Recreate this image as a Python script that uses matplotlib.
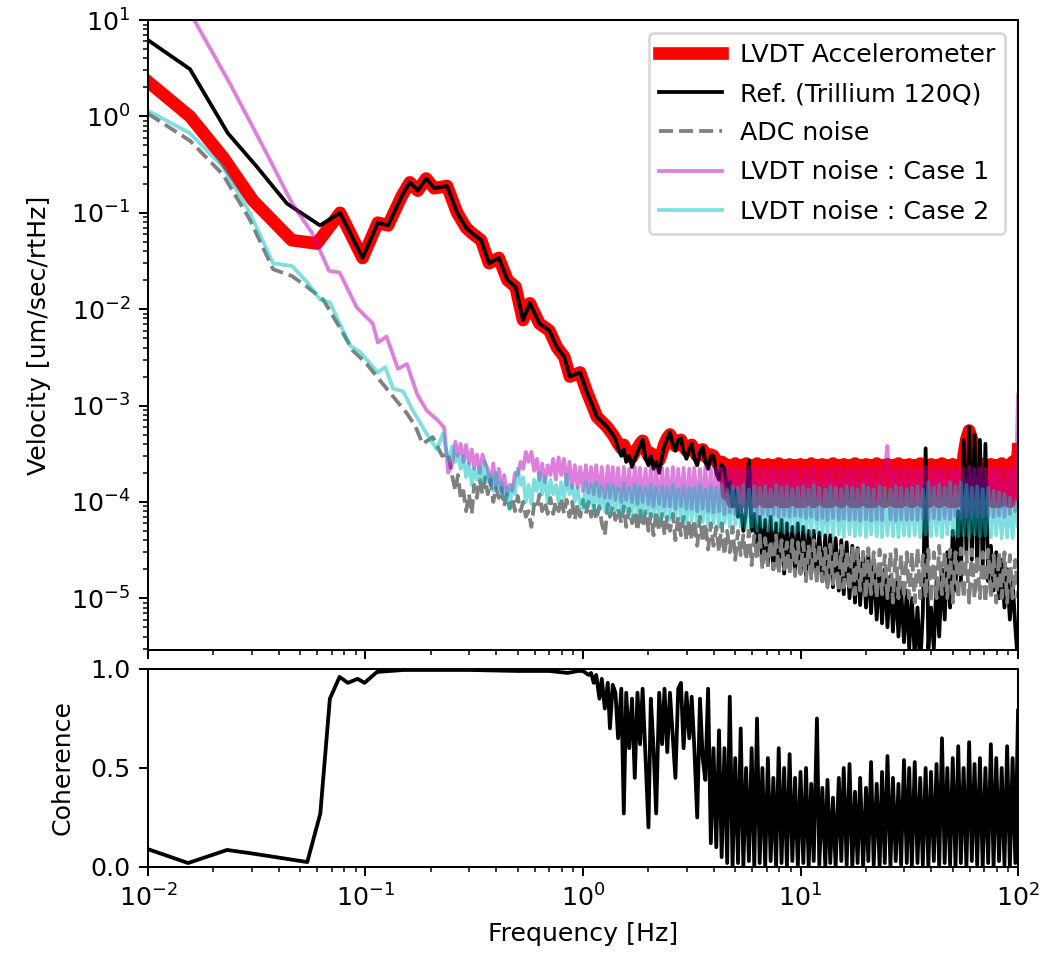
import numpy as np
import matplotlib
matplotlib.use('Agg')
import matplotlib.pyplot as plt

# --- frequency grid for the noisy part of the spectra [Hz] ---
# one decade of mantissas (80 per decade), used for 0.25-1, 1-10 and 10-100 Hz
f_dec = np.array([
    1.0, 1.03, 1.06, 1.09, 1.12, 1.15, 1.19, 1.22, 1.26, 1.30,
    1.33, 1.37, 1.41, 1.45, 1.50, 1.54, 1.58, 1.63, 1.68, 1.73,
    1.78, 1.83, 1.88, 1.94, 2.0, 2.05, 2.11, 2.17, 2.24, 2.31,
    2.37, 2.44, 2.51, 2.59, 2.66, 2.74, 2.82, 2.90, 2.99, 3.08,
    3.16, 3.25, 3.35, 3.45, 3.55, 3.65, 3.76, 3.87, 3.98, 4.10,
    4.22, 4.34, 4.47, 4.60, 4.73, 4.87, 5.01, 5.16, 5.31, 5.46,
    5.62, 5.79, 5.96, 6.13, 6.31, 6.49, 6.68, 6.88, 7.08, 7.29,
    7.50, 7.72, 7.94, 8.18, 8.41, 8.66, 8.91, 9.17, 9.44, 9.72])
f_grid = np.concatenate([f_dec[32:] * 0.1, f_dec, f_dec * 10, [100.0]])   # 209 points

# --- Ref. (Trillium 120Q) ---
ref_lo_f = [0.01, 0.0156, 0.0233, 0.0317, 0.0435, 0.0618, 0.0764, 0.097, 0.114, 0.127,
            0.147, 0.16, 0.174, 0.19, 0.207, 0.237, 0.264, 0.29, 0.31, 0.34,
            0.37, 0.41, 0.45, 0.49, 0.53, 0.57, 0.63, 0.70, 0.76, 0.82,
            0.87, 0.97, 1.04, 1.16, 1.29, 1.37]
ref_lo = [6.2, 3.1, 0.67, 0.30, 0.125, 0.074, 0.10, 0.034, 0.079, 0.074,
          0.15, 0.207, 0.17, 0.227, 0.18, 0.19, 0.10, 0.07, 0.061, 0.052,
          0.03, 0.034, 0.02, 0.017, 0.0077, 0.0115, 0.0071, 0.006, 0.004, 0.0032,
          0.002, 0.0022, 0.0014, 0.00076, 0.0006, 0.0005]
# from 1.41 Hz on (f_grid[60:]), in 1e-4
ref_hi = [4.5, 3.6, 3.0, 3.5, 2.6, 3.0, 2.3, 2.8, 3.3, 3.8,
          4.4, 2.8, 2.4, 3.0, 2.2, 2.6, 2.0, 3.0, 3.8, 4.5,
          5.3, 3.9, 3.4, 4.4, 4.6, 3.3, 2.8, 3.5,
          4.0, 2.8, 2.4, 3.3, 3.7, 2.6, 2.2, 3.0, 3.0, 2.0,
          1.7, 2.4, 2.2, 1.3, 1.6, 0.9, 1.3, 0.7, 0.9, 0.5,
          0.8, 2.7, 0.5, 0.75, 0.3, 0.7, 0.25, 0.65, 0.22, 0.7,
          0.2, 0.6, 0.2, 0.65, 0.18, 0.6, 0.2, 0.55, 0.18, 0.6,
          0.18, 0.55, 0.17, 0.5, 0.18, 0.5, 0.16, 0.48, 0.15, 0.45,
          0.14, 0.45, 0.13, 0.42, 0.12, 0.4, 0.11, 0.38, 0.1, 0.35,
          0.09, 0.33, 0.085, 0.3, 0.08, 0.28, 0.07, 0.25, 0.06, 0.22,
          0.055, 0.2, 0.05, 0.17, 0.045, 0.15, 0.04, 0.13, 0.035, 0.12,
          0.03, 0.1, 0.025, 0.08, 0.02, 0.07, 3.6, 0.03, 0.08, 0.03,
          0.15, 0.04, 0.2, 0.06, 0.3, 0.08, 0.5, 0.12, 0.8, 0.15,
          4.4, 0.3, 6.0, 0.25, 5.0, 0.2, 4.4, 0.2, 4.0, 0.15,
          0.35, 0.12, 0.3, 0.1, 0.25, 0.08, 0.2, 0.06, 0.15, 0.05,
          0.02]

# --- LVDT Accelerometer (follows the reference above 0.07 Hz) ---
acc_lo_f = [0.01, 0.0156, 0.0221, 0.0304, 0.0458, 0.0598]
acc_lo = [2.3, 1.0, 0.38, 0.134, 0.052, 0.048]
acc_hi = [4.5, 4.0, 3.6, 3.9, 3.4, 3.2, 2.9, 3.3, 3.6, 4.0,
          4.3, 3.5, 3.0, 3.2, 2.8, 3.0, 2.7, 3.3, 4.0, 4.6,
          5.0, 4.4, 3.8, 4.2, 4.4, 3.8, 3.4, 3.7,
          3.9, 3.3, 3.0, 3.4, 3.5, 3.0, 2.8, 3.1, 3.0, 2.6,
          2.4, 2.6, 2.5, 1.2, 2.4, 1.0, 2.5, 1.1, 2.4, 1.0,
          2.5, 1.05, 2.4, 1.0, 2.5, 1.1, 2.4, 1.0, 2.45, 1.0,
          2.4, 1.05, 2.5, 1.0, 2.4, 1.0, 2.45, 1.05, 2.4, 1.0,
          2.45, 1.0, 2.4, 1.05, 2.5, 1.0, 2.4, 1.1, 2.45, 1.0,
          2.4, 1.0, 2.5, 1.05, 2.4, 1.0, 2.45, 1.1, 2.4, 1.0,
          2.5, 1.0, 2.4, 1.05, 2.45, 1.0, 2.4, 1.0, 2.5, 1.1,
          2.4, 1.0, 2.45, 1.05, 2.4, 1.0, 2.5, 1.0, 2.4, 1.05,
          2.45, 1.0, 2.4, 1.05, 2.5, 1.0, 2.4, 1.0, 2.45, 1.1,
          2.4, 1.0, 2.5, 1.05, 2.4, 1.0, 2.45, 1.0, 2.4, 1.1,
          3.0, 4.5, 5.5, 4.5, 3.2, 1.1, 2.5, 1.0, 2.4, 1.05,
          2.45, 1.0, 2.4, 1.0, 2.5, 1.05, 2.4, 1.0, 2.6, 1.2,
          3.5]

# --- ADC noise ---
adc_lo_f = [0.01, 0.0156, 0.0221, 0.0294, 0.0376, 0.046, 0.054, 0.064, 0.076, 0.0876,
            0.1, 0.125, 0.14, 0.155, 0.17, 0.183, 0.204, 0.225, 0.24]
adc_lo = [1.07, 0.56, 0.25, 0.085, 0.026, 0.022, 0.017, 0.0125, 0.0065, 0.0037,
          0.0028, 0.0015, 0.0011, 0.00083, 0.0006, 0.0004, 0.00047, 0.0003, 0.00032]
adc_hi = [1.8, 1.3, 1.9, 1.1, 1.3, 0.8, 1.2, 0.75, 1.5, 1.1,
          1.7, 1.2, 1.8, 1.2, 1.7, 1.0, 1.4, 1.1, 1.4, 0.9,
          1.2, 0.85, 1.1, 0.8, 1.15, 0.8, 1.0, 0.7, 0.8, 0.55,
          0.95, 0.85, 1.2, 0.8, 1.0, 0.75, 1.1, 0.75, 1.0, 0.8,
          1.1, 0.75, 1.05, 0.7, 1.0, 0.65, 0.95, 0.7,
          1.05, 0.75, 1.0, 0.7, 0.95, 0.65, 0.9, 0.6, 0.45, 0.95,
          0.7, 0.9, 0.65, 0.85, 0.6, 0.9, 0.55, 0.85, 0.6, 0.8,
          0.5, 0.85, 0.55, 0.8, 0.5, 0.75, 0.45, 0.8, 0.5, 0.75,
          0.45, 0.7, 0.5, 0.75, 0.4, 0.7, 0.45, 0.7, 0.4, 0.65,
          0.4, 0.65, 0.35, 0.7, 0.38, 0.6, 0.32, 0.6, 0.35, 0.55,
          0.3, 0.6, 0.28, 0.5, 0.3, 0.55, 0.25, 0.5, 0.28, 0.45,
          0.25, 0.5, 0.22, 0.45, 0.25, 0.45, 0.2, 0.42, 0.22, 0.4,
          0.2, 0.45, 0.18, 0.4, 0.2, 0.38, 0.18, 0.4, 0.17, 0.38,
          0.18, 0.38, 0.15, 0.36, 0.16, 0.4, 0.14, 0.35, 0.15, 0.33,
          0.13, 0.36, 0.14, 0.32, 0.12, 0.35, 0.13, 0.3, 0.12, 0.33,
          0.11, 0.32, 0.12, 0.3, 0.1, 0.33, 0.11, 0.3, 0.1, 0.32,
          0.11, 0.28, 0.1, 0.3, 0.09, 0.32, 0.1, 0.28, 0.1, 0.3,
          0.1, 0.3, 0.09, 0.33, 0.1, 0.28, 0.1, 0.32, 0.09, 0.3,
          0.1, 0.35, 0.11, 0.3, 0.1, 0.32, 0.09, 0.3, 0.1, 0.33,
          0.1, 0.3, 0.09, 0.32, 0.1, 0.28, 0.1, 0.3, 0.09, 0.32,
          0.1, 0.28, 0.09, 0.3, 0.1, 0.3, 0.09, 0.28, 0.1, 0.25,
          0.1]

# --- LVDT noise : Case 1 ---
case1_lo_f = [0.0156, 0.0238, 0.0352, 0.046, 0.057, 0.068, 0.076, 0.0912, 0.108, 0.114,
              0.125, 0.141, 0.155, 0.173, 0.191, 0.215, 0.23, 0.24]
case1_lo = [12, 2.2, 0.41, 0.125, 0.061, 0.025, 0.024, 0.0104, 0.0071, 0.0045,
            0.0052, 0.0024, 0.0027, 0.0013, 0.00089, 0.0007, 0.00059, 0.0002]
case1_hi = [2.5, 4.2, 3.0, 4.0, 2.6, 3.9, 2.5, 3.5, 2.2, 3.1,
            2.0, 3.1, 2.5, 2.2, 1.5, 2.5, 1.4, 2.2, 1.3, 1.9,
            1.2, 1.5, 1.3, 2.0, 1.9, 2.6, 2.2, 3.3, 2.6, 3.3,
            2.1, 2.8, 1.7, 2.5, 1.6, 2.4, 1.9, 2.8, 1.7, 2.9,
            1.9, 2.8, 1.5, 2.6, 1.4, 2.4, 1.4, 2.3,
            1.3, 2.4, 1.25, 2.3, 1.2, 2.4, 1.15, 2.3, 1.1, 2.35,
            1.1, 2.3, 1.05, 2.25, 1.0, 2.3, 1.05, 2.2, 1.0, 2.3,
            0.95, 2.25, 1.0, 2.2, 0.95, 2.3, 0.9, 2.2, 0.95, 2.25,
            0.9, 2.2, 0.9, 2.3, 0.85, 2.2, 0.9, 2.25, 0.85, 2.2,
            0.85, 2.25, 0.8, 2.2, 0.85, 2.3, 0.8, 2.2, 0.78, 2.25,
            0.8, 2.2, 0.75, 2.3, 0.78, 2.2, 0.75, 2.25, 0.78, 2.2,
            0.74, 2.3, 0.76, 2.2, 0.72, 2.25, 0.75, 2.2, 0.72, 2.3,
            0.74, 2.2, 0.7, 2.25, 0.72, 2.2, 0.7, 2.3, 0.72, 2.2,
            0.7, 2.25, 0.68, 2.2, 0.7, 2.3, 0.66, 2.2, 0.68, 2.25,
            0.65, 2.2, 0.68, 2.3, 0.65, 2.2, 0.67, 2.25, 0.65, 2.2,
            0.66, 2.3, 0.64, 2.2, 0.66, 2.25, 0.64, 2.2, 0.66, 2.3,
            0.65, 2.2, 3.8, 0.66, 2.25, 0.64, 2.2, 0.66, 2.3, 0.65,
            2.2, 0.66, 2.25, 0.65, 2.2, 0.67, 2.3, 0.65, 2.2, 0.68,
            2.25, 0.66, 2.2, 0.68, 2.3, 0.66, 2.2, 0.7, 2.25, 0.68,
            2.2, 0.7, 2.3, 0.68, 2.2, 0.7, 2.25, 0.7, 2.2, 0.72,
            2.3, 0.7, 2.2, 0.72, 2.25, 0.7, 2.2, 0.75, 2.3, 0.8,
            13.0]

# --- LVDT noise : Case 2 ---
case2_lo_f = [0.01, 0.0156, 0.0221, 0.0294, 0.0376, 0.046, 0.054, 0.062, 0.0686, 0.0848,
              0.0944, 0.114, 0.123, 0.134, 0.149, 0.165, 0.191, 0.213, 0.227, 0.24]
case2_lo = [1.15, 0.67, 0.30, 0.10, 0.030, 0.028, 0.019, 0.0125, 0.0118, 0.0042,
            0.0036, 0.0022, 0.0025, 0.0015, 0.0014, 0.00089, 0.00051, 0.00035, 0.00051, 0.00027]
case2_hi = [3.8, 2.6, 3.1, 2.2, 3.0, 1.8, 2.5, 1.5, 2.2, 1.7,
            2.3, 1.6, 2.6, 1.6, 1.9, 1.3, 2.0, 1.3, 1.6, 1.1,
            1.4, 0.85, 1.5, 1.2, 2.2, 1.5, 1.8, 1.0, 1.5, 0.95,
            1.7, 1.3, 2.0, 1.2, 1.8, 1.0, 1.7, 1.2, 1.5, 1.0,
            1.6, 1.1, 1.9, 1.2, 1.5, 1.0, 1.4, 0.9,
            0.85, 1.6, 0.9, 1.5, 0.8, 1.6, 0.85, 1.45, 0.8, 1.5,
            0.75, 1.5, 0.8, 1.4, 0.75, 1.55, 0.8, 1.4, 0.7, 1.5,
            0.75, 1.45, 0.7, 1.4, 0.75, 1.5, 0.7, 1.4, 0.65, 1.45,
            0.7, 1.4, 0.65, 1.5, 0.7, 1.35, 0.65, 1.45, 0.6, 1.4,
            0.65, 1.4, 0.6, 1.5, 0.62, 1.35, 0.58, 1.45, 0.6, 1.4,
            0.55, 1.5, 0.6, 1.35, 0.55, 1.45, 0.58, 1.4, 0.55, 1.5,
            0.52, 1.35, 0.55, 1.45, 0.5, 1.4, 0.55, 1.45, 0.5, 1.35,
            0.52, 1.5, 0.5, 1.4, 0.48, 1.45, 0.5, 1.35, 0.48, 1.4,
            0.5, 1.45, 0.48, 1.35, 0.45, 1.5, 0.48, 1.4, 0.45, 1.35,
            0.47, 1.45, 0.44, 1.4, 0.46, 1.35, 0.43, 1.45, 0.46, 1.4,
            0.44, 1.35, 0.45, 1.5, 0.43, 1.4, 0.46, 1.35, 0.44, 1.45,
            0.43, 1.4, 0.45, 1.35, 0.44, 1.45, 0.43, 1.4, 0.45, 1.35,
            0.44, 1.4, 0.45, 1.45, 0.43, 1.35, 0.46, 1.6, 0.44, 1.4,
            0.45, 1.5, 0.43, 1.4, 0.46, 1.6, 0.45, 1.45, 0.44, 1.6,
            0.45, 1.5, 0.43, 1.4, 0.46, 1.45, 0.44, 1.35, 0.45, 1.4,
            0.43, 1.3, 0.45, 1.25, 0.42, 1.2, 0.43, 1.1, 0.42, 1.0,
            0.55]

# --- Coherence ---
coh_lo_f = [0.01, 0.0153, 0.0231, 0.0294, 0.054, 0.062, 0.0686, 0.076, 0.083, 0.092,
            0.099, 0.113, 0.13, 0.15, 0.2, 0.3, 0.5, 0.7, 0.85, 0.95]
coh_lo = [0.09, 0.02, 0.086, 0.07, 0.025, 0.27, 0.85, 0.96, 0.93, 0.95,
          0.93, 0.985, 0.99, 0.995, 0.995, 0.995, 0.99, 0.99, 0.98, 0.99]
# from 1 Hz on (f_grid[48:])
coh_hi = [0.99, 0.98, 0.97, 0.98, 0.93, 0.97, 0.85, 0.95, 0.80, 0.93,
          0.70, 0.92, 0.88, 0.65, 0.90, 0.27, 0.88, 0.60, 0.85, 0.45,
          0.88, 0.62, 0.90, 0.55, 0.20, 0.85, 0.60, 0.27, 0.88, 0.62,
          0.90, 0.58, 0.88, 0.65, 0.45, 0.90, 0.93, 0.60, 0.88, 0.65,
          0.86, 0.60, 0.25, 0.85, 0.55, 0.44, 0.90, 0.12, 0.60, 0.10,
          0.69, 0.05, 0.60, 0.02, 0.86, 0.0, 0.55, 0.02, 0.70, 0.0,
          0.50, 0.03, 0.60, 0.0, 0.75, 0.02, 0.50, 0.0, 0.55, 0.03,
          0.45, 0.0, 0.60, 0.02, 0.50, 0.0, 0.57, 0.03, 0.45, 0.0,
          0.48, 0.02, 0.50, 0.0, 0.42, 0.03, 0.75, 0.01, 0.40, 0.0,
          0.44, 0.02, 0.35, 0.0, 0.45, 0.03, 0.50, 0.01, 0.52, 0.0,
          0.38, 0.02, 0.45, 0.0, 0.40, 0.03, 0.53, 0.01, 0.42, 0.0,
          0.48, 0.02, 0.56, 0.0, 0.45, 0.03, 0.42, 0.01, 0.54, 0.02,
          0.50, 0.0, 0.53, 0.02, 0.45, 0.01, 0.50, 0.0, 0.48, 0.03,
          0.52, 0.0, 0.65, 0.02, 0.50, 0.01, 0.55, 0.0, 0.61, 0.02,
          0.50, 0.0, 0.63, 0.03, 0.52, 0.01, 0.55, 0.0, 0.50, 0.02,
          0.62, 0.0, 0.55, 0.03, 0.50, 0.01, 0.61, 0.0, 0.55, 0.02,
          0.79]

# assemble each trace
ref_f = np.concatenate([ref_lo_f, f_grid[60:]])
ref_v = np.concatenate([ref_lo, np.array(ref_hi) * 1e-4])
acc_f = np.concatenate([acc_lo_f, ref_lo_f[6:], f_grid[60:]])
acc_v = np.concatenate([acc_lo, ref_lo[6:], np.array(acc_hi) * 1e-4])
adc_f = np.concatenate([adc_lo_f, f_grid])
adc_v = np.concatenate([adc_lo, np.array(adc_hi) * 1e-4])
c1_f = np.concatenate([case1_lo_f, f_grid])
c1_v = np.concatenate([case1_lo, np.array(case1_hi) * 1e-4])
c2_f = np.concatenate([case2_lo_f, f_grid])
c2_v = np.concatenate([case2_lo, np.array(case2_hi) * 1e-4])
coh_f = np.concatenate([coh_lo_f, f_grid[48:]])
coh_v = np.concatenate([coh_lo, coh_hi])

# figure: 1042 x 958 px
fig = plt.figure(figsize=(1042 / 182, 958 / 182), dpi=182)
ax1 = fig.add_axes([0.142, 0.3215, 0.835, 0.6575])
ax2 = fig.add_axes([0.142, 0.095, 0.835, 0.2067], sharex=ax1)

ax1.loglog(acc_f, acc_v, color='red', lw=5, label='LVDT Accelerometer')
ax1.loglog(ref_f, ref_v, color='k', lw=1.5, label='Ref. (Trillium 120Q)')
ax1.loglog(adc_f, adc_v, color='gray', ls='--', lw=1.5, label='ADC noise')
ax1.loglog(c1_f, c1_v, color='m', alpha=0.5, lw=1.5, label='LVDT noise : Case 1')
ax1.loglog(c2_f, c2_v, color='c', alpha=0.5, lw=1.5, label='LVDT noise : Case 2')
ax1.set_xlim(1e-2, 1e2)
ax1.set_ylim(2.9e-6, 10)
ax1.set_ylabel('Velocity [um/sec/rtHz]', labelpad=8)
ax1.legend(loc='upper right', labelspacing=0.6, handlelength=2.5, handletextpad=0.7)
plt.setp(ax1.get_xticklabels(), visible=False)

ax2.semilogx(coh_f, coh_v, color='k', lw=1.5)
ax2.set_ylim(0, 1)
ax2.set_yticks([0.0, 0.5, 1.0])
ax2.set_xlabel('Frequency [Hz]')
ax2.set_ylabel('Coherence', labelpad=6)

fig.savefig('out.png', dpi=182)
